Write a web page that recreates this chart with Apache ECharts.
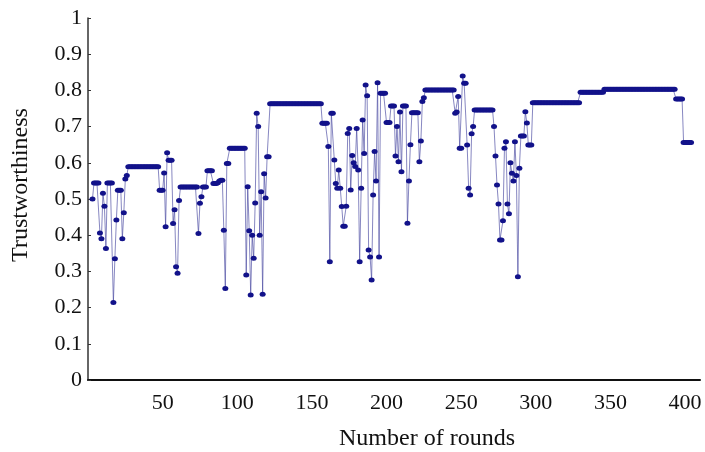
<!DOCTYPE html>
<html>
<head>
<meta charset="utf-8">
<script src="https://cdn.jsdelivr.net/npm/echarts@6/dist/echarts.min.js"></script>
<style>
  html, body { margin: 0; padding: 0; background: #fff; }
  #container { width: 705px; height: 452px; }
</style>
</head>
<body>
<div id="container"></div>
<script>
"use strict";

// first plotted round, values follow one per round
const firstRound = 3;

const trust = [
  0.50, 0.544, 0.544, 0.544, 0.544, 0.406, 0.39, 0.516, 0.48, 0.363,
  0.544, 0.544, 0.544, 0.544, 0.214, 0.335, 0.442, 0.524, 0.524, 0.524,
  0.39, 0.462, 0.555, 0.565, 0.589, 0.589, 0.589, 0.589, 0.589, 0.589,
  0.589, 0.589, 0.589, 0.589, 0.589, 0.589, 0.589, 0.589, 0.589, 0.589,
  0.589, 0.589, 0.589, 0.589, 0.589, 0.524, 0.524, 0.524, 0.572, 0.423,
  0.628, 0.607, 0.607, 0.607, 0.432, 0.47, 0.313, 0.295, 0.496, 0.533,
  0.533, 0.533, 0.533, 0.533, 0.533, 0.533, 0.533, 0.533, 0.533, 0.533,
  0.533, 0.405, 0.488, 0.506, 0.533, 0.533, 0.533, 0.578, 0.578, 0.578,
  0.578, 0.543, 0.543, 0.543, 0.545, 0.55, 0.552, 0.552, 0.414, 0.253,
  0.598, 0.598, 0.64, 0.64, 0.64, 0.64, 0.64, 0.64, 0.64, 0.64,
  0.64, 0.64, 0.64, 0.29, 0.534, 0.412, 0.235, 0.40, 0.336, 0.489,
  0.737, 0.70, 0.40, 0.52, 0.237, 0.57, 0.503, 0.617, 0.617, 0.763,
  0.763, 0.763, 0.763, 0.763, 0.763, 0.763, 0.763, 0.763, 0.763, 0.763,
  0.763, 0.763, 0.763, 0.763, 0.763, 0.763, 0.763, 0.763, 0.763, 0.763,
  0.763, 0.763, 0.763, 0.763, 0.763, 0.763, 0.763, 0.763, 0.763, 0.763,
  0.763, 0.763, 0.763, 0.763, 0.709, 0.709, 0.709, 0.709, 0.645, 0.327,
  0.737, 0.737, 0.608, 0.543, 0.53, 0.58, 0.53, 0.479, 0.425, 0.425,
  0.48, 0.681, 0.695, 0.525, 0.62, 0.60, 0.59, 0.695, 0.58, 0.327,
  0.53, 0.718, 0.626, 0.815, 0.785, 0.359, 0.34, 0.276, 0.511, 0.631,
  0.55, 0.821, 0.34, 0.792, 0.792, 0.792, 0.792, 0.711, 0.711, 0.711,
  0.757, 0.757, 0.757, 0.619, 0.70, 0.603, 0.74, 0.575, 0.757, 0.757,
  0.757, 0.433, 0.55, 0.65, 0.738, 0.738, 0.738, 0.738, 0.738, 0.603,
  0.66, 0.769, 0.78, 0.801, 0.801, 0.801, 0.801, 0.801, 0.801, 0.801,
  0.801, 0.801, 0.801, 0.801, 0.801, 0.801, 0.801, 0.801, 0.801, 0.801,
  0.801, 0.801, 0.801, 0.737, 0.74, 0.783, 0.64, 0.64, 0.84, 0.82,
  0.82, 0.649, 0.53, 0.511, 0.68, 0.70, 0.746, 0.746, 0.746, 0.746,
  0.746, 0.746, 0.746, 0.746, 0.746, 0.746, 0.746, 0.746, 0.746, 0.70,
  0.619, 0.539, 0.486, 0.387, 0.387, 0.44, 0.64, 0.658, 0.486, 0.459,
  0.60, 0.571, 0.55, 0.658, 0.565, 0.285, 0.585, 0.674, 0.674, 0.674,
  0.741, 0.71, 0.649, 0.649, 0.649, 0.766, 0.766, 0.766, 0.766, 0.766,
  0.766, 0.766, 0.766, 0.766, 0.766, 0.766, 0.766, 0.766, 0.766, 0.766,
  0.766, 0.766, 0.766, 0.766, 0.766, 0.766, 0.766, 0.766, 0.766, 0.766,
  0.766, 0.766, 0.766, 0.766, 0.766, 0.766, 0.766, 0.795, 0.795, 0.795,
  0.795, 0.795, 0.795, 0.795, 0.795, 0.795, 0.795, 0.795, 0.795, 0.795,
  0.795, 0.795, 0.795, 0.803, 0.803, 0.803, 0.803, 0.803, 0.803, 0.803,
  0.803, 0.803, 0.803, 0.803, 0.803, 0.803, 0.803, 0.803, 0.803, 0.803,
  0.803, 0.803, 0.803, 0.803, 0.803, 0.803, 0.803, 0.803, 0.803, 0.803,
  0.803, 0.803, 0.803, 0.803, 0.803, 0.803, 0.803, 0.803, 0.803, 0.803,
  0.803, 0.803, 0.803, 0.803, 0.803, 0.803, 0.803, 0.803, 0.803, 0.803,
  0.803, 0.776, 0.776, 0.776, 0.776, 0.776, 0.656, 0.656, 0.656, 0.656,
  0.656, 0.656,
];

const xRange = [0, 410];
const xStep = 50;
const yStep = 0.1;

const points = trust.map((v, i) => [firstRound + i, v]);

let myChart = echarts.init(document.getElementById('container'));

const serif = '"Liberation Serif", "DejaVu Serif", serif';

let option = {
  animation: false,
  grid: {
    left: 88,
    right: 5,
    top: 18,
    bottom: 72,
    outerBoundsMode: 'none',
  },
  xAxis: {
    type: 'value',
    min: xRange[0],
    max: xRange[1],
    interval: xStep,
    name: 'Number of rounds',
    nameLocation: 'middle',
    nameGap: 47,
    nameTextStyle: {
      fontFamily: serif,
      fontSize: 24,
      color: '#111',
      padding: [0, 0, 0, 66],
    },
    axisLine: { lineStyle: { color: '#111', width: 2 } },
    axisTick: { show: false },
    splitLine: { show: false },
    axisLabel: {
      showMinLabel: false,
      showMaxLabel: false,
      margin: 12,
      fontFamily: serif,
      fontSize: 22,
      color: '#111',
    },
  },
  yAxis: {
    type: 'value',
    min: 0,
    max: 1,
    interval: yStep,
    name: 'Trustworthiness',
    nameLocation: 'middle',
    nameGap: 55,
    nameTextStyle: {
      fontFamily: serif,
      fontSize: 24,
      color: '#111',
      padding: [0, 0, 0, 28],
    },
    axisLine: { show: true, lineStyle: { color: '#333', width: 1.5 } },
    axisTick: { show: true, inside: true, length: 3, lineStyle: { color: '#333' } },
    splitLine: { show: false },
    axisLabel: {
      margin: 6,
      fontFamily: serif,
      fontSize: 22,
      color: '#111',
    },
  },
  series: [
    {
      type: 'line',
      data: points,
      symbol: 'circle',
      symbolSize: [6, 5],
      showAllSymbol: true,
      itemStyle: { color: '#12128a' },
      lineStyle: { color: 'rgba(70, 70, 160, 0.65)', width: 1 },
    },
  ],
};

myChart.setOption(option);
</script>
</body>
</html>
